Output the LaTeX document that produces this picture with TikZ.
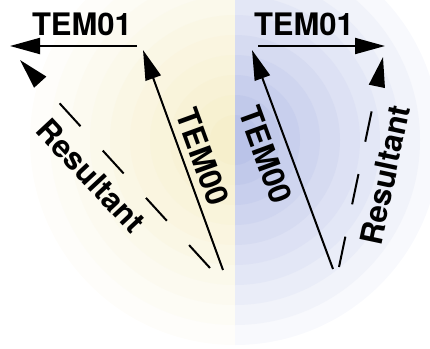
\documentclass[tikz,border=0pt]{standalone}
\usepackage{fontspec}
\setmainfont{TeX Gyre Heros}
\usetikzlibrary{arrows.meta}
\definecolor{halfyellow}{RGB}{246,239,204}
\definecolor{halfblue}{RGB}{186,195,232}
\begin{document}
\begin{tikzpicture}[x=1pt,y=-1pt,
    vec/.style={line width=2pt,-{Triangle[length=30pt,width=16pt]}},
    resvec/.style={vec,dash pattern=on 31pt off 33pt},
    lbl/.style={inner sep=0pt,font=\fontsize{31}{31}\selectfont\bfseries}]
  \useasboundingbox (0,0) rectangle (430,348);
  \coordinate (ctr) at (235,140);
  % two shaded half disks
  \begin{scope}
    \clip (0,0) rectangle (235,348);
    \foreach \k [evaluate=\k as \p using int(10*\k),
                 evaluate=\k as \rr using 225-20*\k] in {1,...,10}
      \fill[halfyellow!\p!white] (ctr) circle (\rr);
  \end{scope}
  \begin{scope}
    \clip (235,0) rectangle (430,348);
    \foreach \k [evaluate=\k as \p using int(10*\k),
                 evaluate=\k as \rr using 225-20*\k] in {1,...,10}
      \fill[halfblue!\p!white] (ctr) circle (\rr);
  \end{scope}
  % left
  \coordinate (l00a) at (223,270);
  \coordinate (l00b) at (143,50);
  \coordinate (l01a) at (137,46);
  \coordinate (l01b) at (10,46);
  \coordinate (lresa) at (210,268);
  \coordinate (lresb) at (20,60);
  \draw[vec] (l00a) -- (l00b);
  \draw[vec] (l01a) -- (l01b);
  \draw[resvec] (lresa) -- (lresb);
  \node[lbl] (l01) at (82,24) {TEM01};
  \node[lbl,rotate=-70] (l00) at (203,157) {TEM00};
  \node[lbl,rotate=-47] (lres) at (91,176) {Resultant};
  % right
  \coordinate (r00a) at (333,269);
  \coordinate (r00b) at (252,50);
  \coordinate (r01a) at (258,46);
  \coordinate (r01b) at (385,46);
  \coordinate (rresa) at (339,267);
  \coordinate (rresb) at (383,57);
  \draw[vec] (r00a) -- (r00b);
  \draw[vec] (r01a) -- (r01b);
  \draw[resvec] (rresa) -- (rresb);
  \node[lbl] (r01) at (304,24) {TEM01};
  \node[lbl,rotate=-70] (r00) at (266,155) {TEM00};
  \node[lbl,rotate=78] (rres) at (385,175) {Resultant};
\end{tikzpicture}
\end{document}
